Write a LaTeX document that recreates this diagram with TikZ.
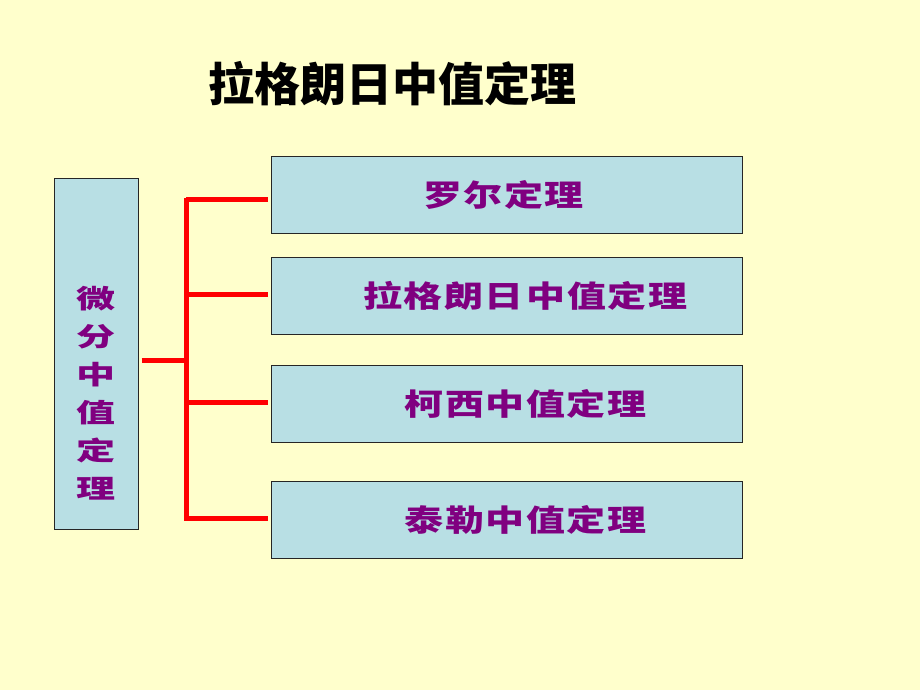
\documentclass[tikz,border=0pt]{standalone}
\usepackage{fontspec}
\newfontfamily\cjk{Noto Sans CJK SC}
\newfontfamily\cjkwide[FakeStretch=1.3,LetterSpace=5]{Noto Sans CJK SC}
\newfontfamily\cjkwider[FakeStretch=1.5]{Noto Sans CJK SC}
\definecolor{paper}{HTML}{FFFFCC}
\definecolor{boxblue}{HTML}{B8DFE4}
\definecolor{thmpurple}{HTML}{800080}
\tikzset{
    theorem/.style={draw=black!85, line width=1pt, fill=boxblue,
        minimum width=471pt, minimum height=77pt, inner sep=0pt,
        text=thmpurple, font=\cjkwide\bfseries\fontsize{30}{32}\selectfont},
    branch/.style={draw=red, line width=5pt}
}

\begin{document}
\begin{tikzpicture}[x=1pt,y=-1pt]
    \fill[paper] (0,0) rectangle (920,690);
    \useasboundingbox (0,0) rectangle (920,690);
    % title
    \node[font=\cjk\bfseries\fontsize{46}{50}\selectfont] (title) at (392,84) {拉格朗日中值定理};
    % left box
    \node[draw=black!85, line width=1pt, fill=boxblue, minimum width=84pt,
        minimum height=351pt, inner sep=0pt] (weifen) at (96,353.5) {};
    \node[text=thmpurple, align=center, inner sep=0pt,
        font=\cjkwider\bfseries\fontsize{26}{38}\selectfont] (weifentext)
        at ([yshift=-40pt]weifen.center) {微\\分\\中\\值\\定\\理};
    % theorems
    \node[theorem] (rolle)    at (506.5,194.5) {\hspace*{-6pt}罗尔定理};
    \node[theorem] (lagrange) at (506.5,296)   {\hspace*{38pt}拉格朗日\hspace{3pt}中值定理};
    \node[theorem] (cauchy)   at (506.5,404)   {\hspace*{38pt}柯西中值定理};
    \node[theorem] (taylor)   at (506.5,520)   {\hspace*{38pt}泰勒中值定理};
    % connectors
    \coordinate (top) at (186,198);
    \coordinate (bottom) at (186,521);
    \coordinate (hub) at (186,360);
    \draw[branch] (top) -- (bottom);
    \draw[branch] (weifen.east |- hub) ++(3,0) -- (hub);
    \draw[branch] (186,199) -- ([xshift=-3pt]rolle.west |- 0,199);
    \draw[branch] (186,294) -- ([xshift=-3pt]lagrange.west |- 0,294);
    \draw[branch] (186,402) -- ([xshift=-3pt]cauchy.west |- 0,402);
    \draw[branch] (186,518) -- ([xshift=-3pt]taylor.west |- 0,518);
\end{tikzpicture}
\end{document}
